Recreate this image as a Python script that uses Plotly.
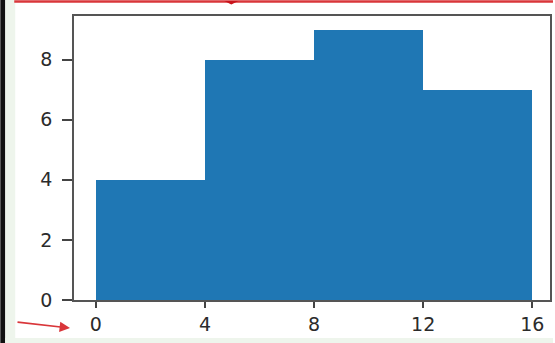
import plotly.graph_objects as go

# Histogram bins and counts
bin_edges = [0, 4, 8, 12, 16]
counts = [4, 8, 9, 7]
x_ticks = [0, 4, 8, 12, 16]
y_ticks = [0, 2, 4, 6, 8]

centers = [(a + b) / 2 for a, b in zip(bin_edges[:-1], bin_edges[1:])]
widths = [b - a for a, b in zip(bin_edges[:-1], bin_edges[1:])]

W, H = 555, 343
fig = go.Figure(go.Bar(
    x=centers, y=counts, width=widths,
    marker=dict(color="#1f77b4", line=dict(width=0)),
    hoverinfo="skip",
))

axis_common = dict(
    showgrid=False, zeroline=False, showline=True, mirror=True,
    linecolor="#555555", linewidth=1.5,
    ticks="outside", tickcolor="#444444", tickwidth=1.5,
    tickfont=dict(family="DejaVu Sans", size=19, color="#2b2b2b"),
)

fig.update_layout(
    width=W, height=H,
    margin=dict(l=74, r=3, t=16, b=43),
    paper_bgcolor="white", plot_bgcolor="white",
    showlegend=False, bargap=0,
    xaxis=dict(range=[-0.8, 16.65], tickvals=x_ticks, ticklen=6,
               ticklabelstandoff=0, **axis_common),
    yaxis=dict(range=[0, 9.45], tickvals=y_ticks, ticklen=10,
               ticklabelstandoff=6, **axis_common),
    shapes=[
        # dark frame strip on the left edge
        dict(type="rect", xref="paper", yref="paper", layer="below",
             x0=-74 / 478, x1=-69 / 478, y0=-43 / 284, y1=1 + 16 / 284,
             fillcolor="#111111", line=dict(width=0)),
        # pale green border strips
        dict(type="rect", xref="paper", yref="paper", layer="below",
             x0=-69 / 478, x1=-59 / 478, y0=-43 / 284, y1=1 + 16 / 284,
             fillcolor="#eef5ec", line=dict(width=0)),
        dict(type="rect", xref="paper", yref="paper", layer="below",
             x0=-69 / 478, x1=1 + 3 / 478, y0=-43 / 284, y1=-38 / 284,
             fillcolor="#eef5ec", line=dict(width=0)),
        # red rule along the top edge
        dict(type="line", xref="paper", yref="paper",
             x0=-60 / 478, x1=1 + 3 / 478, y0=1 + 14.5 / 284, y1=1 + 14.5 / 284,
             line=dict(color="#d9363a", width=2.5)),
        dict(type="path", xref="paper", yref="paper",
             path="M %f %f L %f %f L %f %f Z" % (
                 (225 - 74) / 478, 1 + 15 / 284,
                 (239 - 74) / 478, 1 + 15 / 284,
                 (232 - 74) / 478, 1 + 11.5 / 284),
             fillcolor="#c8141c", line=dict(width=0)),
    ],
    annotations=[
        dict(xref="paper", yref="paper",
             x=(70 - 74) / 478, y=-(328 - 300) / 284,
             ax=16 - 70, ay=-(328 - 322),
             axref="pixel", ayref="pixel",
             text="", showarrow=True, arrowhead=2, arrowsize=1.3,
             arrowwidth=1.6, arrowcolor="#d9363a"),
    ],
)

fig.write_html("out.html")
